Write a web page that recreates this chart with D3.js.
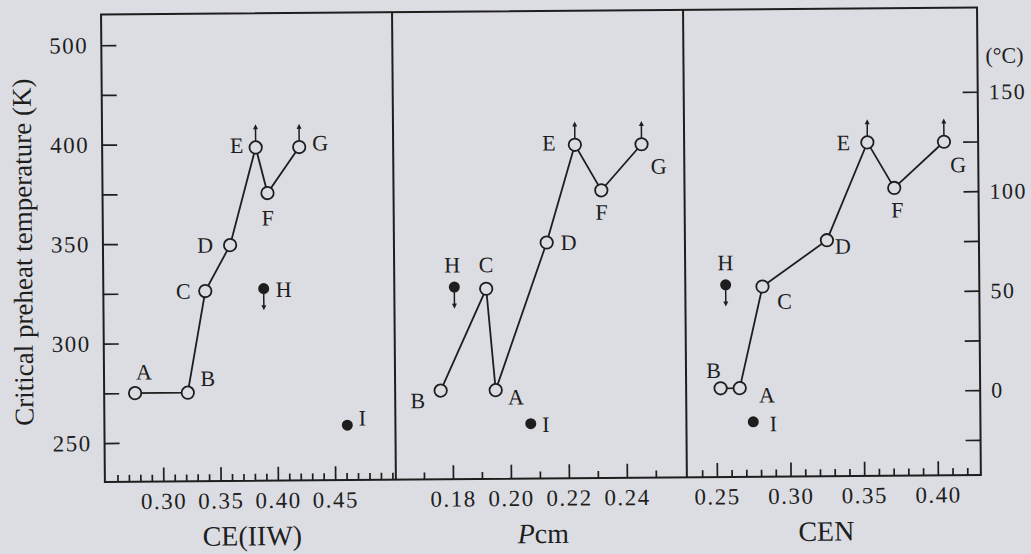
<!DOCTYPE html>
<html><head><meta charset="utf-8">
<script src="https://cdn.jsdelivr.net/npm/d3@7"></script>
<style>
html,body{margin:0;padding:0;background:#dcdde2;}
svg{display:block;}
text{font-family:"Liberation Serif","Times New Roman",serif;fill:#1e1e1e;}
</style></head><body>
<svg id="chart" width="1031" height="554"></svg>
<script>
// ---- data ----
const steels      = ["A","B","C","D","E","F","G","H","I"];
const ceIIW       = [0.276, 0.322, 0.338, 0.360, 0.383, 0.393, 0.421, 0.389, 0.461];
const pcm         = [0.195, 0.176, 0.192, 0.213, 0.223, 0.232, 0.246, 0.181, 0.207];
const cen         = [0.266, 0.253, 0.282, 0.326, 0.354, 0.372, 0.406, 0.257, 0.275];
const critTempK   = [275, 275, 326, 349, 398, 375, 398, 327, 258];
const markerType  = ["open","open","open","open","open","open","open","filled","filled"];
const arrowDir    = ["","","","","up","","up","down",""];
const panelTitles = ["CE(IIW)", "Pcm", "CEN"];
const ceTicks     = [0.30, 0.35, 0.40, 0.45];
const pcmTicks    = [0.18, 0.20, 0.22, 0.24];
const cenTicks    = [0.25, 0.30, 0.35, 0.40];
const leftTickValues  = [250, 275, 300, 325, 350, 375, 400, 425, 450];
const leftTickLabels  = ["250", "", "300", "", "350", "", "400", "", "500"];
const rightTickValues = [-25, 0, 25, 50, 75, 100, 125, 150];
const rightTickLabels = ["", "0", "", "50", "", "100", "", "150"];
const yTitle = "Critical preheat temperature (K)";
const rightUnit = "(°C)";

// ---- layout ----
const frame = {left:103, right:979, top:11, bottom:478.5};
const panelX = [[103,394],[394,685],[685,979]];
const panelDomains = [[0.249,0.503],[0.1603,0.2607],[0.2296,0.4292]];
const panelValues = [ceIIW, pcm, cen];
const panelMajor = [ceTicks, pcmTicks, cenTicks];
const titlePos = [250, 541, 824];
const labelOffsets = [
  {A:[9,-21],B:[20,-14],C:[-22,0],D:[-25,0],E:[-19,-2],F:[0,25],G:[21,-4],H:[20,1],I:[15,-7]},
  {A:[20,7],B:[-23,10],C:[0,-24],D:[22,0],E:[-26,-2],F:[0,22],G:[17,22],H:[-2,-22],I:[15,1]},
  {A:[27,7],B:[-7,-18],C:[22,15],D:[16,6],E:[-24,0],F:[3,22],G:[14,23],H:[0,-22],I:[20,2]}
];
const ink = "#1e1e1e";
const bg = "#dcdde2";

const svg = d3.select("#chart");
const root = svg.append("g").attr("transform","rotate(-0.47,540,250)");

const y = d3.scaleLinear().domain([230.4, 465.4]).range([frame.bottom, frame.top]);
const yC = d3.scaleLinear().domain([230.4-273, 465.4-273]).range([frame.bottom, frame.top]);

function styleAxis(g, size){
  g.attr("font-size", null).attr("font-family", null);
  g.select(".domain").remove();
  g.selectAll(".tick line").attr("stroke", ink).attr("stroke-width", 1.7);
  g.selectAll(".tick text").style("font-size", size+"px").style("letter-spacing","1.5px").attr("fill", ink);
}

// left axis
root.append("g").attr("transform",`translate(${frame.left},0)`)
  .call(d3.axisLeft(y).tickValues(leftTickValues).tickSize(-15).tickPadding(13)
        .tickFormat((d,i)=>leftTickLabels[i]))
  .call(g=>styleAxis(g,23));

// right axis
root.append("g").attr("transform",`translate(${frame.right},0)`)
  .call(d3.axisRight(yC).tickValues(rightTickValues).tickSize(-15).tickPadding(11)
        .tickFormat((d,i)=>rightTickLabels[i]))
  .call(g=>styleAxis(g,22));

root.append("text").attr("x", 987).attr("y", 59).attr("dominant-baseline","central")
  .style("font-size","22px").text(rightUnit);

// y title
root.append("text").attr("transform",`translate(32,248) rotate(-90)`)
  .attr("text-anchor","middle").style("font-size","27px").text(yTitle);

// panels
panelValues.forEach((vals, p) => {
  const x = d3.scaleLinear().domain(panelDomains[p]).range(panelX[p]);
  const [d0,d1] = panelDomains[p];
  const majors = panelMajor[p];
  const minor = d3.range(Math.ceil(d0*100), Math.floor(d1*100)+1).map(k=>k/100)
    .filter(v => !majors.some(m=>Math.abs(m-v)<1e-6))
    .filter(v => x(v) > panelX[p][0]+3 && x(v) < panelX[p][1]-3);

  root.append("g").attr("transform",`translate(0,${frame.bottom})`)
    .call(d3.axisBottom(x).tickValues(minor).tickSize(-7).tickFormat(""))
    .call(g=>styleAxis(g,23));
  root.append("g").attr("transform",`translate(0,${frame.bottom})`)
    .call(d3.axisBottom(x).tickValues(majors).tickSize(-14).tickPadding(11).tickFormat(d3.format(".2f")))
    .call(g=>styleAxis(g,23));

  // title
  const t = root.append("text").attr("x", titlePos[p]).attr("y", 543)
    .attr("text-anchor","middle").style("font-size","28px");
  if (panelTitles[p] === "Pcm") {
    t.append("tspan").style("font-style","italic").text("P");
    t.append("tspan").text("cm");
  } else t.text(panelTitles[p]);

  const pts = steels.map((s,i)=>({s, v: vals[i], k: critTempK[i], type: markerType[i], arrow: arrowDir[i]}));
  const open = pts.filter(d=>d.type==="open").sort((a,b)=>a.v-b.v);

  root.append("path").datum(open)
    .attr("d", d3.line().x(d=>x(d.v)).y(d=>y(d.k)))
    .attr("fill","none").attr("stroke", ink).attr("stroke-width", 1.8);

  const r = 6.2, rf = 4.6, alen = 17;
  pts.forEach(d=>{
    const cx = x(d.v), cy = y(d.k);
    const rr = d.type==="open" ? r : rf;
    if (d.arrow==="up") {
      root.append("line").attr("x1",cx).attr("x2",cx).attr("y1",cy-rr).attr("y2",cy-rr-alen+4)
        .attr("stroke",ink).attr("stroke-width",1.5);
      root.append("path").attr("d",`M${cx-2.5},${cy-rr-alen+5} L${cx},${cy-rr-alen} L${cx+2.5},${cy-rr-alen+5}Z`).attr("fill",ink);
    } else if (d.arrow==="down") {
      root.append("line").attr("x1",cx).attr("x2",cx).attr("y1",cy+rr).attr("y2",cy+rr+alen-4)
        .attr("stroke",ink).attr("stroke-width",1.5);
      root.append("path").attr("d",`M${cx-2.5},${cy+rr+alen-5} L${cx},${cy+rr+alen} L${cx+2.5},${cy+rr+alen-5}Z`).attr("fill",ink);
    }
    root.append("circle").attr("cx",cx).attr("cy",cy).attr("r",rr)
      .attr("fill", d.type==="open" ? bg : ink).attr("stroke", ink).attr("stroke-width", 1.8);
    const off = labelOffsets[p][d.s];
    root.append("text").attr("x",cx+off[0]).attr("y",cy+off[1])
      .attr("text-anchor","middle").attr("dominant-baseline","central")
      .style("font-size","22px").text(d.s);
  });
});

// frame
root.append("rect").attr("x",frame.left).attr("y",frame.top)
  .attr("width",frame.right-frame.left).attr("height",frame.bottom-frame.top)
  .attr("fill","none").attr("stroke",ink).attr("stroke-width",2);
[394,685].forEach(xv=>root.append("line").attr("x1",xv).attr("x2",xv)
  .attr("y1",frame.top).attr("y2",frame.bottom).attr("stroke",ink).attr("stroke-width",2));
</script>
</body></html>
